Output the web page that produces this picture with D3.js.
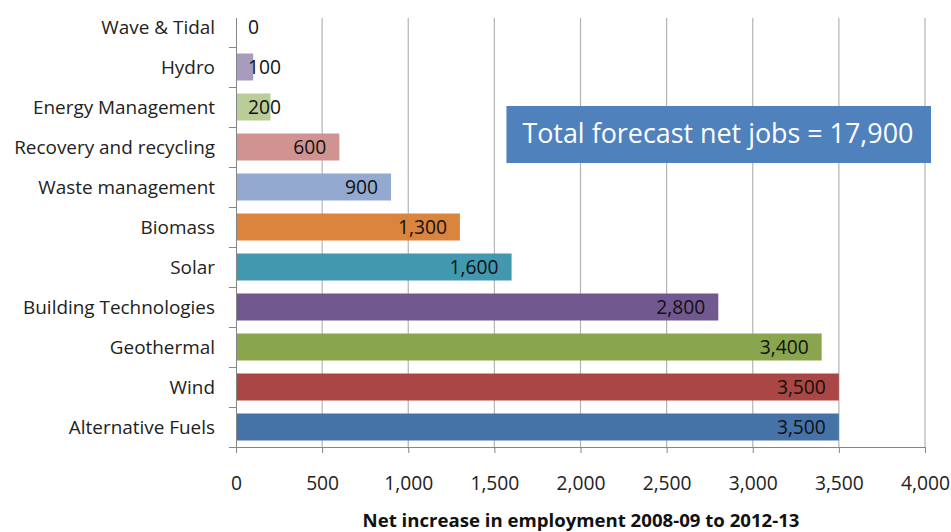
<!DOCTYPE html>
<html>
<head>
<meta charset="utf-8">
<script src="https://cdn.jsdelivr.net/npm/d3@7"></script>
<style>
  html, body { margin: 0; padding: 0; background: #fff; }
  svg { display: block; }
  text { font-family: "Open Sans", Lato, "Liberation Sans", sans-serif; }
</style>
</head>
<body>
<svg id="chart" width="951" height="532"></svg>
<script>
// Green-economy job forecast by sector (top to bottom as drawn)
const sectors = [
  "Wave & Tidal", "Hydro", "Energy Management", "Recovery and recycling",
  "Waste management", "Biomass", "Solar", "Building Technologies",
  "Geothermal", "Wind", "Alternative Fuels"
];
const jobs = [0, 100, 200, 600, 900, 1300, 1600, 2800, 3400, 3500, 3500];
const barColors = [
  "#91C3D5", "#A99BBD", "#B9CD96", "#D19392", "#93A9CF", "#DB843D",
  "#4198AF", "#71588F", "#89A54E", "#AA4643", "#4572A7"
];
const xTicks = [0, 500, 1000, 1500, 2000, 2500, 3000, 3500, 4000];
const xTitle = "Net increase in employment 2008-09 to 2012-13";
const totalNote = "Total forecast net jobs = 17,900";

const svg = d3.select("#chart");
const fmt = d3.format(",");

const plot = { left: 236, right: 925, top: 7, bottom: 447, gridTop: 18 };

const x = d3.scaleLinear().domain([0, 4000]).range([plot.left, plot.right]);
const y = d3.scaleBand().domain(sectors).range([plot.top, plot.bottom])
  .paddingInner(0.325).paddingOuter(0.1625);

// scale a text selection's font so its widest item spans the given width
function fitWidth(sel, baseSize, width) {
  let widest = 0;
  sel.each(function() { widest = Math.max(widest, this.getComputedTextLength()); });
  const size = baseSize * width / widest;
  sel.attr("font-size", size);
  return size;
}

// vertical gridlines
svg.append("g").selectAll("line").data(xTicks.slice(1)).join("line")
  .attr("x1", d => x(d)).attr("x2", d => x(d))
  .attr("y1", plot.gridTop).attr("y2", plot.bottom)
  .attr("stroke", "#B3B3B3").attr("stroke-width", 1.2);

// bars
svg.append("g").selectAll("rect").data(sectors).join("rect")
  .attr("x", x(0))
  .attr("y", d => y(d))
  .attr("width", (d, i) => x(jobs[i]) - x(0))
  .attr("height", y.bandwidth())
  .attr("fill", (d, i) => barColors[i]);

// x axis
const xAxis = svg.append("g")
  .attr("transform", `translate(0,${plot.bottom})`)
  .call(d3.axisBottom(x).tickValues(xTicks).tickFormat(fmt).tickSize(6).tickPadding(23));
xAxis.select(".domain").attr("stroke", "#868686");
xAxis.selectAll(".tick line").attr("stroke", "#868686");
const tickText = xAxis.selectAll(".tick text").attr("font-size", 17).attr("fill", "#222")
  .style("font-family", "'Open Sans', Lato, sans-serif");
fitWidth(tickText, 17, 49);

// y axis: line + ticks at category boundaries
const step = y.step();
const boundaries = d3.range(sectors.length).map(i => plot.top + i * step);
svg.append("line")
  .attr("x1", plot.left + 0.5).attr("x2", plot.left + 0.5)
  .attr("y1", plot.gridTop).attr("y2", plot.bottom)
  .attr("stroke", "#868686");
svg.append("g").selectAll("line").data(boundaries.slice(1).concat([plot.bottom])).join("line")
  .attr("x1", plot.left - 7).attr("x2", plot.left)
  .attr("y1", d => d + 0.5).attr("y2", d => d + 0.5)
  .attr("stroke", "#868686");

// category labels
const catLabels = svg.append("g").selectAll("text").data(sectors).join("text")
  .attr("x", 215)
  .attr("y", d => y(d) + y.bandwidth() / 2)
  .attr("dy", "0.35em")
  .attr("text-anchor", "end")
  .attr("font-size", 16)
  .attr("fill", "#222")
  .text(d => d);
fitWidth(catLabels, 16, 201);

// value labels: inside end of the bar, pushed right of the axis when the bar is short
const valueLabels = svg.append("g").selectAll("text").data(sectors).join("text")
  .attr("y", d => y(d) + y.bandwidth() / 2)
  .attr("dy", "0.35em")
  .attr("font-size", 17)
  .attr("fill", "#111")
  .text((d, i) => fmt(jobs[i]));
fitWidth(valueLabels, 17, 49);
valueLabels.each(function(d, i) {
  const w = this.getComputedTextLength();
  const right = Math.max(x(jobs[i]) - 13, plot.left + 12 + w);
  d3.select(this).attr("x", right).attr("text-anchor", "end");
});

// axis title
const title = svg.append("text")
  .attr("x", 581).attr("y", 527)
  .attr("text-anchor", "middle")
  .attr("font-size", 15)
  .attr("font-weight", "bold")
  .attr("fill", "#111")
  .text(xTitle);
fitWidth(title, 15, 437);

// total note box
const box = { x: x(1570), y: 106, w: 931 - x(1570), h: 57 };
svg.append("rect")
  .attr("x", box.x).attr("y", box.y)
  .attr("width", box.w).attr("height", box.h)
  .attr("fill", "#4F81BD");
const note = svg.append("text")
  .attr("x", box.x + 16).attr("y", box.y + 37)
  .attr("font-size", 26)
  .attr("fill", "#fff")
  .text(totalNote);
fitWidth(note, 26, 391);
</script>
</body>
</html>
